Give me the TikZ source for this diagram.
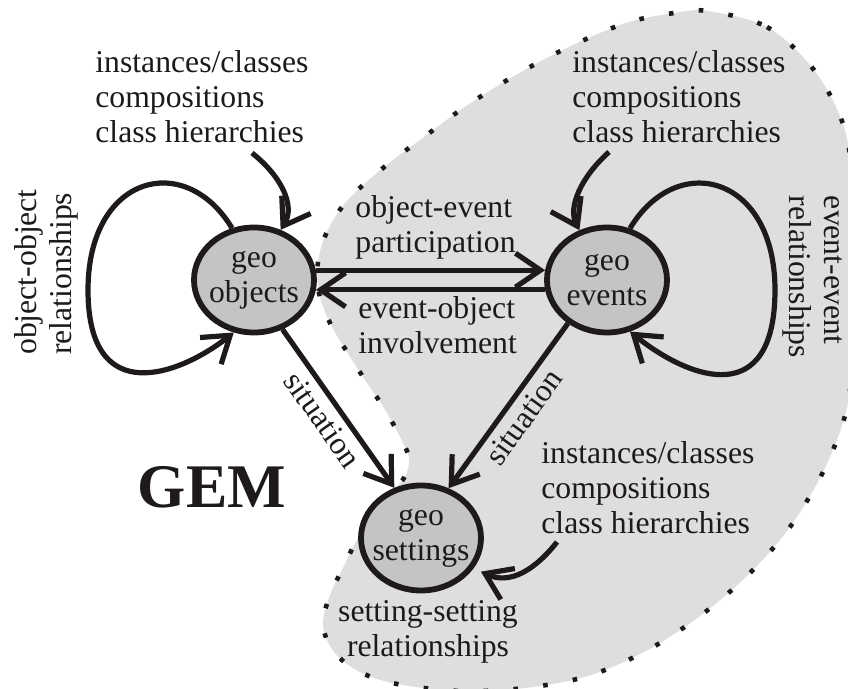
\documentclass[tikz,border=0pt]{standalone}
\usepackage{fontspec}
\setmainfont{Liberation Serif}
\usetikzlibrary{arrows.meta,shapes.geometric}
\definecolor{ink}{RGB}{30,26,27}
\definecolor{blobfill}{RGB}{222,222,222}
\definecolor{nodefill}{RGB}{196,196,196}
\begin{document}
\begin{tikzpicture}[x=0.5pt,y=-0.5pt,
  txt/.style={font=\fontsize{15.85}{17.5}\selectfont, text=ink, inner sep=0pt},
  geo/.style={ellipse, draw=ink, fill=nodefill, line width=2.9pt,
    minimum width=60pt, minimum height=52.5pt, inner xsep=-20pt, inner ysep=-10pt,
    align=center, font=\fontsize{15.85}{17.5}\selectfont, text=ink},
  conn/.style={draw=ink, line width=2.6pt, -{Straight Barb[length=12.5pt,width=17pt]}},
  blob/.style={fill=blobfill, draw=ink, line width=2.3pt, line cap=butt, dash pattern=on 2.3pt off 12.7pt}
]
\useasboundingbox (0,0) rectangle (848,689);
\fill[white] (0,0) rectangle (848,689);
% shaded region
\path[blob] plot[smooth cycle, tension=0.55] coordinates {
 (707,11) (767,27) (814,70) (844,127) (855,200) (858,280) (854,350) (846,412)
 (824,470) (790,527) (748,575) (700,616) (646,651) (588,676) (525,688) (460,691)
 (397,684) (360,672) (334,652) (323,625) (330,595) (343,568) (358,538) (382,503)
 (404,478) (409,458) (399,435) (384,408) (367,383) (349,355) (331,325) (319,293)
 (318,262) (326,234) (342,207) (363,185) (393,160) (420,140) (459,111) (499,85)
 (541,61) (584,40) (629,22) (674,13)};
% nodes
\node[geo] (objects) at (254,280) {geo\\objects};
\node[geo] (events) at (607,280) {geo\\events};
\node[geo] (settings) at (421,538) {geo\\settings};
% text
\node[txt, align=left, anchor=north west] (tlt) at (95,50) {instances/classes\\compositions\\class hierarchies};
\node[txt, align=left, anchor=north west] (trt) at (572,50) {instances/classes\\compositions\\class hierarchies};
\node[txt, align=left, anchor=north west] (brt) at (541,441) {instances/classes\\compositions\\class hierarchies};
\node[txt, align=left, anchor=north west] (oet) at (355,195) {object-event\\participation};
\node[txt, align=left, anchor=north west] (eot) at (358,296) {event-object\\involvement};
\node[txt, align=center, anchor=north] (sst) at (428,600) {setting-setting\\relationships};
\node[txt, rotate=90, align=left] (oor) at (46,272) {object-object\\relationships};
\node[txt, rotate=-90, align=left] (eer) at (813,277) {event-event\\relationships};
\node[font=\fontsize{31}{36}\selectfont\bfseries, text=ink, inner sep=0pt, anchor=base] (gem) at (212,508) {GEM};
% anchor points of incoming arrows
\coordinate (s1) at (252,153);
\coordinate (s2) at (609,152);
\coordinate (s3) at (557,542);
% connectors
\draw[conn] (objects.9) -- (events.171);
\draw[conn] (events.189) -- (objects.351);
\draw[conn] (objects.-60) -- node[txt, sloped, below=3pt] {situation} (settings.118);
\draw[conn] (events.228) -- node[txt, sloped, below=3pt] {situation} (settings.61);
\draw[conn] (objects.113) .. controls (185,150) and (88,175) .. (88,290)
  .. controls (88,410) and (180,375) .. (objects.249);
\draw[conn] (events.66) .. controls (677,150) and (775,175) .. (775,290)
  .. controls (775,410) and (690,380) .. (events.-66);
\draw[conn] (s1) .. controls (280,175) and (296,205) .. (objects.62);
\draw[conn] (s2) .. controls (580,178) and (568,208) .. (events.119);
\draw[conn, shorten >=4pt] (s3) .. controls (535,570) and (510,585) .. (settings.-30);
\end{tikzpicture}
\end{document}
